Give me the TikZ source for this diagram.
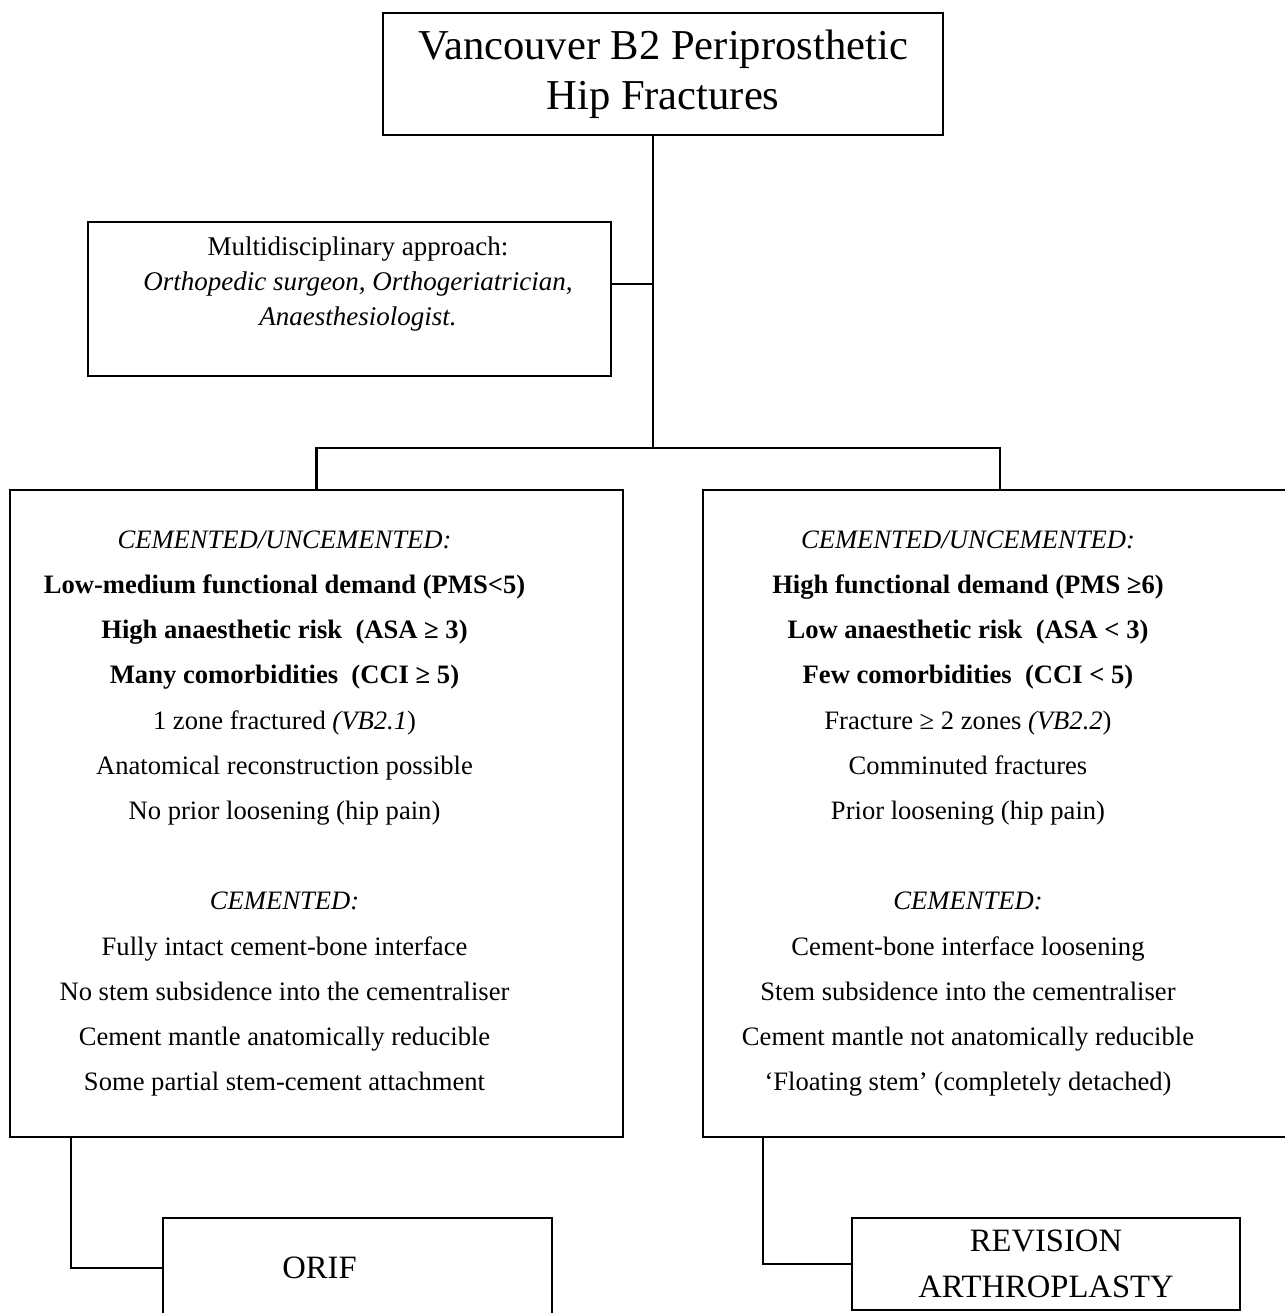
\documentclass[tikz,border=0pt]{standalone}
\usepackage{fontspec}
\setmainfont{Liberation Serif}
\usetikzlibrary{positioning}

\begin{document}
\begin{tikzpicture}[
    x=0.5pt, y=-0.5pt,
    box/.style={draw, line width=1.4pt, inner sep=0pt, outer sep=0pt, align=center},
    link/.style={line width=1.4pt},
    body/.style={align=center, font=\fontsize{13.3}{22.6}\selectfont},
    note/.style={align=center, font=\fontsize{13.5}{17.5}\selectfont},
    result/.style={box, font=\fontsize{16.3}{23}\selectfont},
    big/.style={box, font=\fontsize{21.3}{25}\selectfont}
  ]
  \useasboundingbox (0,0) rectangle (1285,1313);

  % Head of the chart
  \node[big, minimum width=280pt, minimum height=61pt] (title) at (663,74)
    {Vancouver B2 Periprosthetic\\Hip Fractures};
  \coordinate (split) at (653,448);

  % Team box
  \node[box, minimum width=261.5pt, minimum height=77pt] (team) at (349.5,299) {};
  \node[note] (teamtext) at (358,284)
    {Multidisciplinary approach:\\
     \textit{Orthopedic surgeon, Orthogeriatrician,}\\
     \textit{Anaesthesiologist.}};

  % Criteria boxes
  \node[box, minimum width=306.5pt, minimum height=323.5pt] (left) at (316.5,813.5) {};
  \node[body] (lefttext) at ([xshift=-16pt]left.center)
    {\textit{CEMENTED/UNCEMENTED:}\\
     \textbf{Low-medium functional demand (PMS<5)}\\
     \textbf{High anaesthetic risk\ \ (ASA ≥ 3)}\\
     \textbf{Many comorbidities\ \ (CCI ≥ 5)}\\
     1 zone fractured \textit{(VB2.1})\\
     Anatomical reconstruction possible\\
     No prior loosening (hip pain)\\[22.6pt]
     \textit{CEMENTED:}\\
     Fully intact cement-bone interface\\
     No stem subsidence into the cementraliser\\
     Cement mantle anatomically reducible\\
     Some partial stem-cement attachment};

  \node[box, minimum width=297pt, minimum height=323.5pt] (right) at (1000,813.5) {};
  \node[body] (righttext) at ([xshift=-16pt]right.center)
    {\textit{CEMENTED/UNCEMENTED:}\\
     \textbf{High functional demand (PMS ≥6)}\\
     \textbf{Low anaesthetic risk\ \ (ASA < 3)}\\
     \textbf{Few comorbidities\ \ (CCI < 5)}\\
     Fracture ≥ 2 zones \textit{(VB2.2})\\
     Comminuted fractures\\
     Prior loosening (hip pain)\\[22.6pt]
     \textit{CEMENTED:}\\
     Cement-bone interface loosening\\
     Stem subsidence into the cementraliser\\
     Cement mantle not anatomically reducible\\
     ‘Floating stem’ (completely detached)};

  % Treatment boxes
  \node[box, minimum width=194.5pt, minimum height=50pt] (orif) at (357.5,1268) {};
  \node[result, draw=none] (oriftext) at ([xshift=-19pt]orif.center) {ORIF};
  \node[result, minimum width=194pt, minimum height=46pt] (revision) at (1046,1264)
    {REVISION\\ARTHROPLASTY};

  % Connectors
  \draw[link] (split |- title.south) -- (split);
  \draw[link] (teamtext.east -| team.east) -- (teamtext.east -| split);
  \draw[link] (left.north) |- (split) -| (right.north);
  \draw[link] ([xshift=30.5pt]left.south west) |- (orif.west);
  \draw[link] ([xshift=30pt]right.south west) |- (revision.west);
\end{tikzpicture}
\end{document}
